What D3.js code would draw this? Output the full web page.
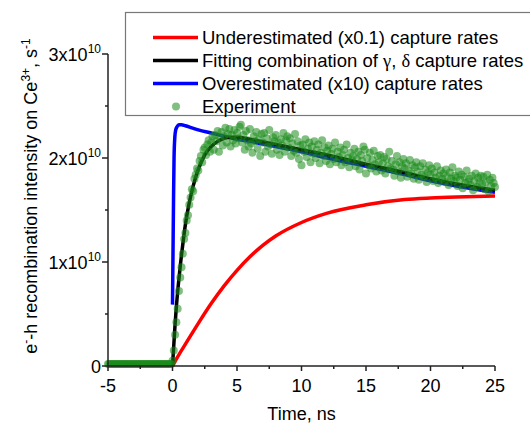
<!DOCTYPE html>
<html>
<head>
<meta charset="utf-8">
<script src="https://cdn.jsdelivr.net/npm/d3@7"></script>
<style>
  html, body { margin: 0; padding: 0; background: #fff; }
  svg { display: block; font-family: Arial, "Liberation Sans", sans-serif; }
</style>
</head>
<body>
<svg id="chart" width="530" height="425"></svg>
<script>
// ---------- DATA (values in units of 1e10 s^-1, time in ns) ----------
const xTicks = [-5, 0, 5, 10, 15, 20, 25];
const yTicks = [0, 1, 2, 3];           // x 1e10
const legendLabels = [
  "Underestimated (x0.1) capture rates",
  "Fitting combination of γ, δ capture rates",
  "Overestimated (x10) capture rates",
  "Experiment"
];

const redT = [0, 0.5, 1, 2, 3, 4, 5, 6, 7, 8, 10, 12, 15, 18, 20, 22, 25];
const redV = [0, 0.11, 0.21, 0.41, 0.60, 0.77, 0.92, 1.05, 1.16, 1.25, 1.38, 1.47, 1.55, 1.60, 1.615, 1.625, 1.635];

const blackT = [0, 0.1, 0.2, 0.3, 0.45, 0.6, 0.8, 1.0, 1.3, 1.6, 2.0, 2.5, 3.0, 3.5, 4.0, 4.5, 5.0, 6, 8, 10, 12, 15, 18, 20, 22, 25];
const blackV = [0, 0.2, 0.4, 0.57, 0.78, 0.96, 1.17, 1.36, 1.57, 1.73, 1.89, 2.03, 2.11, 2.16, 2.19, 2.20, 2.20, 2.18, 2.13, 2.08, 2.03, 1.94, 1.86, 1.80, 1.75, 1.69];

const blueT = [0, 0.04, 0.08, 0.12, 0.18, 0.25, 0.35, 0.5, 0.7, 1.0, 1.5, 2, 3, 4, 5, 6, 8, 10, 12, 15, 18, 20, 22, 25];
const blueV = [0.59, 1.1, 1.6, 2.0, 2.2, 2.27, 2.30, 2.32, 2.32, 2.31, 2.29, 2.27, 2.24, 2.21, 2.18, 2.16, 2.11, 2.06, 2.00, 1.92, 1.84, 1.78, 1.73, 1.67];

// Experiment: sampled every 0.1 ns starting at -5 ns
const expStart = -5, expStep = 0.1;
const expV = [
  0.02,0.02,0.02,0.02,0.02,0.02,0.02,0.02,0.02,0.02,
  0.02,0.02,0.02,0.02,0.02,0.02,0.02,0.02,0.02,0.02,
  0.02,0.02,0.02,0.02,0.02,0.02,0.02,0.02,0.02,0.02,
  0.02,0.02,0.02,0.02,0.02,0.02,0.02,0.02,0.02,0.02,
  0.02,0.02,0.02,0.02,0.02,0.02,0.02,0.02,0.02,0.02,
  0.05,0.15,0.30,0.42,0.55,0.72,0.85,0.95,1.08,1.22,
  1.28,1.40,1.45,1.55,1.62,1.70,1.68,1.80,1.84,1.90,
  1.88,1.97,2.02,1.96,2.08,2.10,2.03,2.13,2.17,2.06,
  2.15,2.21,2.08,2.22,2.16,2.26,2.06,2.19,2.25,2.12,
  2.21,2.29,2.15,2.23,2.28,2.11,2.22,2.17,2.27,2.14,
  2.24,2.19,2.30,2.32,2.15,2.22,2.08,2.26,2.17,2.11,
  2.28,2.14,2.05,2.21,2.16,2.25,2.09,2.18,2.02,2.23,
  2.15,2.24,2.06,2.19,2.11,2.27,2.13,2.04,2.20,2.16,
  2.22,2.08,2.15,2.03,2.18,2.12,2.24,2.06,2.17,2.21,
  2.10,2.19,2.02,2.14,2.07,2.23,2.05,2.16,1.99,2.12,
  1.93,2.13,2.06,2.18,2.01,2.09,2.15,1.96,2.11,2.04,
  2.16,2.00,2.08,2.13,1.95,2.05,2.17,2.02,2.10,1.97,
  2.07,2.12,1.94,2.04,2.09,1.99,2.15,1.96,2.06,2.01,
  2.10,1.93,2.03,2.08,1.96,2.13,2.00,1.91,2.05,1.98,
  2.02,2.09,1.92,1.99,2.06,1.89,2.03,1.97,2.11,2.08,
  1.85,2.00,1.93,2.05,1.90,1.98,2.07,1.94,1.87,2.02,
  1.96,2.03,1.88,1.95,2.01,1.85,1.99,1.92,2.06,1.90,
  1.97,1.89,1.83,1.94,2.02,1.87,1.96,1.81,1.92,1.99,
  1.90,1.95,1.82,1.88,1.98,1.85,1.93,1.80,1.91,1.96,
  1.87,1.79,1.92,1.84,1.95,1.82,1.89,1.77,1.86,1.93,
  1.84,1.90,1.78,1.86,1.81,1.92,1.76,1.83,1.88,1.80,
  1.85,1.77,1.89,1.82,1.74,1.86,1.80,1.91,1.78,1.83,
  1.81,1.73,1.87,1.79,1.84,1.71,1.82,1.76,1.88,1.77,
  1.80,1.74,1.83,1.69,1.78,1.85,1.72,1.81,1.76,1.83,
  1.75,1.82,1.70,1.77,1.84,1.68,1.79,1.73,1.81,1.76,
  1.72
];

// ---------- LAYOUT ----------
const svg = d3.select("#chart");
const x = d3.scaleLinear().domain([-5, 25]).range([108, 495]);
const y = d3.scaleLinear().domain([0, 3]).range([366, 54]);

const axisColor = "#222";
const fontSize = 18;

// ---------- CURVES ----------
const line = d3.line().x(d => x(d[0])).y(d => y(d[1])).curve(d3.curveMonotoneX);
const zip = (a, b) => a.map((t, i) => [t, b[i]]);

svg.append("path").datum(zip(redT, redV)).attr("d", line)
  .attr("fill", "none").attr("stroke", "#ff0000").attr("stroke-width", 3.5);
svg.append("path").datum(zip(blueT, blueV)).attr("d", line)
  .attr("fill", "none").attr("stroke", "#0000ff").attr("stroke-width", 3.5);
svg.append("path").datum(zip(blackT, blackV)).attr("d", line)
  .attr("fill", "none").attr("stroke", "#000000").attr("stroke-width", 3.5);

// ---------- EXPERIMENT POINTS ----------
const ptColor = "#1a8a1a";
svg.append("g").selectAll("circle").data(expV).join("circle")
  .attr("cx", (d, i) => x(expStart + i * expStep))
  .attr("cy", d => y(d))
  .attr("r", 4)
  .attr("fill", ptColor)
  .attr("fill-opacity", 0.55);

// ---------- AXES ----------
const xMinor = d3.range(-2.5, 25, 5);
const yMinor = [0.5, 1.5, 2.5];

const gx = svg.append("g").attr("transform", "translate(0,366)");
gx.append("line").attr("x1", x(-5)).attr("x2", x(25)).attr("stroke", axisColor).attr("stroke-width", 1.5);
gx.selectAll(".maj").data(xTicks).join("line")
  .attr("x1", d => x(d)).attr("x2", d => x(d)).attr("y1", 0).attr("y2", 5)
  .attr("stroke", axisColor).attr("stroke-width", 1.5);
gx.selectAll(".min").data(xMinor).join("line")
  .attr("x1", d => x(d)).attr("x2", d => x(d)).attr("y1", 0).attr("y2", 3)
  .attr("stroke", axisColor).attr("stroke-width", 1.5);
gx.selectAll("text").data(xTicks).join("text")
  .attr("x", d => x(d)).attr("y", 26)
  .attr("text-anchor", "middle").attr("font-size", fontSize).attr("fill", "#000")
  .text(d => d);

const gy = svg.append("g").attr("transform", "translate(108,0)");
gy.append("line").attr("y1", y(0)).attr("y2", y(3)).attr("stroke", axisColor).attr("stroke-width", 1.5);
gy.selectAll(".maj").data(yTicks).join("line")
  .attr("y1", d => y(d)).attr("y2", d => y(d)).attr("x1", 0).attr("x2", -6)
  .attr("stroke", axisColor).attr("stroke-width", 1.5);
gy.selectAll(".min").data(yMinor).join("line")
  .attr("y1", d => y(d)).attr("y2", d => y(d)).attr("x1", 0).attr("x2", -3)
  .attr("stroke", axisColor).attr("stroke-width", 1.5);
gy.selectAll("text").data(yTicks).join("text")
  .attr("x", -7).attr("y", d => y(d) + 7)
  .attr("text-anchor", "end").attr("font-size", fontSize).attr("fill", "#000")
  .each(function(d) {
    const t = d3.select(this);
    if (d === 0) { t.text("0"); return; }
    t.append("tspan").text(d + "x10");
    t.append("tspan").attr("font-size", 12).attr("dy", -8).text("10");
  });

// axis titles
svg.append("text").attr("x", x(10)).attr("y", 420)
  .attr("text-anchor", "middle").attr("font-size", fontSize).text("Time, ns");

const yl = svg.append("text")
  .attr("transform", "translate(37,196) rotate(-90)")
  .attr("text-anchor", "middle").attr("font-size", fontSize);
yl.append("tspan").text("e");
yl.append("tspan").attr("font-size", 12).attr("dy", -7).text("-");
yl.append("tspan").attr("dy", 7).text("-h recombination intensity on Ce");
yl.append("tspan").attr("font-size", 12).attr("dy", -7).text("3+");
yl.append("tspan").attr("dy", 7).text(", s");
yl.append("tspan").attr("font-size", 12).attr("dy", -7).text("-1");

// ---------- LEGEND ----------
const lg = svg.append("g");
lg.append("rect").attr("x", 125.5).attr("y", 12.5).attr("width", 420).attr("height", 103)
  .attr("fill", "#fff").attr("stroke", "#777").attr("stroke-width", 1.2);
const lColors = ["#ff0000", "#000000", "#0000ff"];
const rowY = [37.5, 60.5, 83.5, 106.5];
legendLabels.forEach((lab, i) => {
  if (i < 3) {
    lg.append("line").attr("x1", 153).attr("x2", 198).attr("y1", rowY[i]).attr("y2", rowY[i])
      .attr("stroke", lColors[i]).attr("stroke-width", 3.5);
  } else {
    lg.append("circle").attr("cx", 176).attr("cy", rowY[i]).attr("r", 4)
      .attr("fill", ptColor).attr("fill-opacity", 0.55);
  }
  const t = lg.append("text").attr("x", 202).attr("y", rowY[i] + 6.5)
    .attr("font-size", 18.5).attr("fill", "#000");
  if (i === 1) {
    t.append("tspan").text("Fitting combination of ");
    t.append("tspan").attr("font-family", "'Liberation Serif', 'DejaVu Serif', serif").text("γ");
    t.append("tspan").text(", ");
    t.append("tspan").attr("font-family", "'Liberation Serif', 'DejaVu Serif', serif").text("δ");
    t.append("tspan").text(" capture rates");
  } else {
    t.text(lab);
  }
});
</script>
</body>
</html>
